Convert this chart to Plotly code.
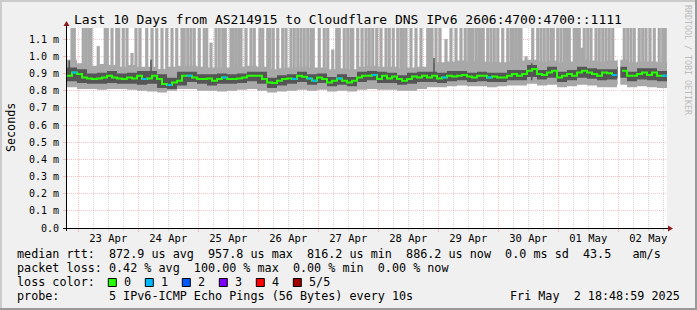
import plotly.graph_objects as go
import pandas as pd

# ---------------- data ----------------
START = pd.Timestamp("2025-04-22 19:30:00")
END = pd.Timestamp("2025-05-02 19:30:00")
MEDIAN_BIN_H = 2      # hours per median sample
BAND_BIN_H = 4        # hours per smoke-band sample

# median rtt, ms (2 h steps)
median_ms = [
    0.887, 0.906, 0.897, 0.877, 0.871, 0.868, 0.871, 0.877, 0.887, 0.877, 0.871, 0.868,
    0.877, 0.871, 0.887, 0.868, 0.871, 0.887, 0.868, 0.839, 0.833, 0.848, 0.858, 0.887,
    0.887, 0.877, 0.868, 0.868, 0.871, 0.858, 0.868, 0.877, 0.868, 0.868, 0.871, 0.877,
    0.887, 0.887, 0.887, 0.868, 0.848, 0.844, 0.858, 0.868, 0.871, 0.868, 0.887, 0.881,
    0.871, 0.858, 0.877, 0.868, 0.848, 0.858, 0.871, 0.858, 0.848, 0.858, 0.877, 0.887,
    0.887, 0.891, 0.868, 0.887, 0.871, 0.883, 0.868, 0.858, 0.868, 0.883, 0.877, 0.887,
    0.877, 0.887, 0.871, 0.877, 0.887, 0.883, 0.887, 0.891, 0.883, 0.877, 0.887, 0.887,
    0.877, 0.883, 0.877, 0.877, 0.887, 0.897, 0.887, 0.897, 0.916, 0.926, 0.897, 0.891,
    0.906, 0.916, 0.877, 0.887, 0.897, 0.887, 0.906, 0.916, 0.906, 0.897, 0.887, 0.906,
    0.902, 0.891, None, 0.916, 0.887, 0.887, 0.897, 0.906, 0.891, 0.906, 0.887, 0.887,
]

# smoke: outer (light) band and inner (dark) band, ms (4 h steps)
light_lo = [
    0.82, 0.81, 0.81, 0.805, 0.81, 0.81, 0.805, 0.80, 0.795, 0.79, 0.80, 0.81,
    0.81, 0.80, 0.80, 0.795, 0.80, 0.805, 0.81, 0.80, 0.79, 0.795, 0.80, 0.805,
    0.80, 0.805, 0.795, 0.80, 0.795, 0.805, 0.81, 0.805, 0.805, 0.80, 0.80, 0.81,
    0.82, 0.82, 0.825, 0.83, 0.825, 0.825, 0.82, 0.825, 0.83, 0.83, 0.84, 0.83,
    0.835, 0.82, 0.825, 0.835, 0.83, 0.82, 0.82, 0.835, 0.82, 0.825, 0.82, 0.815,
]
light_hi = [
    0.98, 0.96, 0.945, 0.955, 0.95, 0.94, 0.95, 0.94, 0.94, 0.926, 0.94, 0.945,
    0.945, 0.94, 0.935, 0.935, 0.935, 0.94, 0.945, 0.94, 0.925, 0.93, 0.935, 0.94,
    0.935, 0.935, 0.925, 0.93, 0.925, 0.94, 0.945, 0.94, 0.94, 0.93, 0.935, 0.94,
    0.96, 0.965, 0.97, 0.975, 0.97, 0.97, 0.965, 0.965, 0.97, 0.975, 0.98, 0.97,
    0.975, 0.965, 0.97, 0.98, 0.975, 0.97, 0.975, 0.98, 0.965, 0.97, 0.97, 0.965,
]
dark_lo = [
    0.855, 0.845, 0.84, 0.84, 0.845, 0.84, 0.84, 0.835, 0.84, 0.815, 0.81, 0.83,
    0.85, 0.84, 0.83, 0.84, 0.84, 0.845, 0.855, 0.84, 0.815, 0.83, 0.84, 0.85,
    0.835, 0.845, 0.825, 0.835, 0.825, 0.85, 0.86, 0.845, 0.845, 0.835, 0.84, 0.85,
    0.85, 0.845, 0.855, 0.86, 0.85, 0.855, 0.85, 0.85, 0.86, 0.86, 0.88, 0.865,
    0.875, 0.85, 0.86, 0.875, 0.87, 0.86, 0.865, 0.875, 0.855, 0.865, 0.86, 0.855,
]
dark_hi = [
    0.935, 0.925, 0.90, 0.905, 0.915, 0.90, 0.905, 0.915, 0.915, 0.895, 0.875, 0.91,
    0.91, 0.895, 0.895, 0.90, 0.895, 0.90, 0.91, 0.91, 0.875, 0.89, 0.895, 0.91,
    0.895, 0.90, 0.88, 0.895, 0.88, 0.91, 0.915, 0.91, 0.905, 0.89, 0.905, 0.91,
    0.91, 0.905, 0.915, 0.915, 0.905, 0.91, 0.905, 0.905, 0.92, 0.92, 0.95, 0.92,
    0.94, 0.91, 0.92, 0.94, 0.93, 0.925, 0.925, 0.94, 0.91, 0.93, 0.93, 0.915,
]

# median samples that lost 1 of 5 pings (index into median_ms)
loss1_bins = [1, 15, 20, 24, 31, 45, 48, 49, 54, 61, 75, 84, 109, 119]

# outlier spikes of the slowest ping (hours after START) that run off the top
spike_hours = [
    2.0, 2.9, 6.5, 7.6, 8.7, 9.6, 15.3, 16.1, 18.0, 19.9, 20.7, 22.5, 24.0, 27.6,
    29.2, 31.9, 34.0, 35.9, 38.0, 39.9, 42.0, 43.9, 46.0, 46.9,
    48.3, 49.6, 50.9, 52.9, 54.9, 55.9, 59.6, 60.9, 62.3, 63.3, 65.6, 66.5, 67.6,
    68.7, 69.6, 71.6, 73.6, 74.9, 77.2, 78.3, 80.3, 81.2, 82.5, 84.3, 86.3, 87.6,
    89.6, 90.9, 92.3, 93.6, 94.9,
    96.3, 97.6, 98.5, 100.9, 102.9, 104.3, 107.9, 108.9, 110.9, 112.3, 113.6,
    114.3, 116.3, 118.0, 119.6, 120.9, 122.3, 123.9, 125.6, 127.6, 128.9, 130.5,
    132.3, 133.6, 134.5, 135.6, 137.6, 139.6, 141.6,
    144.3, 145.2, 146.0, 147.6, 149.2, 153.6, 155.6, 157.6, 159.3, 160.7, 161.6,
    162.3, 163.6, 164.7, 165.6, 166.5, 168.3, 169.6, 170.9, 172.3, 174.3, 176.3,
    177.6, 178.5, 179.6, 180.7, 181.6, 186.3, 188.3, 189.6, 190.9,
    192.3, 193.6, 194.5, 196.3, 197.6, 198.9, 199.9, 200.9, 202.9, 203.9, 204.9,
    206.9, 208.3, 209.6, 211.6, 212.9, 214.3, 215.6, 216.9, 218.3, 222.9, 224.3,
    225.6, 226.9, 228.9, 230.3, 231.6, 233.2, 234.9, 236.9, 238.3, 239.3,
]
# spikes that stop inside the chart: hour, top (ms)
short_spike_hours = [12.5, 26.0, 57.6, 106.3, 151.6, 183.6, 206.0]
short_spike_top = [1.06, 1.02, 1.08, 1.04, 1.10, 1.00, 1.05]
# dark (inner-ping) spikes
dark_spike_hours = [0.9, 33.6, 146.8, 185.9]
dark_spike_top = [0.975, 0.98, 0.99, 0.96]
# missing data
gap_hours = [220.3, 221.3]

y_tick_vals = [0.0, 0.1, 0.2, 0.3, 0.4, 0.5, 0.6, 0.7, 0.8, 0.9, 1.0, 1.1]
y_tick_text = ["0.0", "0.1 m", "0.2 m", "0.3 m", "0.4 m", "0.5 m", "0.6 m",
               "0.7 m", "0.8 m", "0.9 m", "1.0 m", "1.1 m"]
Y_TOP = 1.165

loss_labels = ["0", "1", "2", "3", "4", "5/5"]
loss_colors = ["#26ff00", "#00b8ff", "#0059ff", "#7e00ff", "#ff0000", "#a00000"]

title_text = "Last 10 Days from AS214915 to Cloudflare DNS IPv6 2606:4700:4700::1111"
legend_line1 = "median rtt:  872.9 us avg  957.8 us max  816.2 us min  886.2 us now  0.0 ms sd  43.5   am/s"
legend_line2 = "packet loss: 0.42 % avg  100.00 % max  0.00 % min  0.00 % now"
legend_line3 = "loss color:"
legend_line4 = "probe:       5 IPv6-ICMP Echo Pings (56 Bytes) every 10s"
stamp_text = "Fri May  2 18:48:59 2025"
watermark = "RRDTOOL / TOBI OETIKER"

# ---------------- styles ----------------
FONT = "DejaVu Sans Mono"
LIGHT = "#A8A8A8"
DARK = "#555555"
MGRID = "rgba(240,110,110,0.42)"
GRID = "#D6D6D6"
ARROW = "#8B1A1A"


def t_at(h):
    return START + pd.Timedelta(hours=h)


def steps(values, bin_h):
    xs = [t_at(bin_h * i) for i in range(len(values) + 1)]
    ys = list(values) + [values[-1]]
    return xs, ys


fig = go.Figure()

# light (outer) smoke band
x, y = steps(light_lo, BAND_BIN_H)
fig.add_trace(go.Scatter(x=x, y=y, mode="lines", line=dict(width=0, shape="hv"),
                         hoverinfo="skip"))
x, y = steps(light_hi, BAND_BIN_H)
fig.add_trace(go.Scatter(x=x, y=y, mode="lines", line=dict(width=0, shape="hv"),
                         fill="tonexty", fillcolor=LIGHT, hoverinfo="skip"))

# outlier spikes
sx, sy = [], []
for h in spike_hours:
    sx += [t_at(h), t_at(h), None]
    sy += [0.9, 1.4, None]
for h, top in zip(short_spike_hours, short_spike_top):
    sx += [t_at(h), t_at(h), None]
    sy += [0.9, top, None]
fig.add_trace(go.Scatter(x=sx, y=sy, mode="lines", line=dict(width=3.2, color=LIGHT),
                         hoverinfo="skip"))

# dark (inner) smoke band
x, y = steps(dark_lo, BAND_BIN_H)
fig.add_trace(go.Scatter(x=x, y=y, mode="lines", line=dict(width=0, shape="hv"),
                         hoverinfo="skip"))
x, y = steps(dark_hi, BAND_BIN_H)
fig.add_trace(go.Scatter(x=x, y=y, mode="lines", line=dict(width=0, shape="hv"),
                         fill="tonexty", fillcolor=DARK, hoverinfo="skip"))

dx, dy = [], []
for h, top in zip(dark_spike_hours, dark_spike_top):
    dx += [t_at(h), t_at(h), None]
    dy += [0.86, top, None]
fig.add_trace(go.Scatter(x=dx, y=dy, mode="lines", line=dict(width=1.5, color=DARK),
                         hoverinfo="skip"))

# median line, loss-coloured
x, y = steps(median_ms, MEDIAN_BIN_H)
fig.add_trace(go.Scatter(x=x, y=y, mode="lines",
                         line=dict(width=2, color=loss_colors[0], shape="hv"),
                         connectgaps=False, hoverinfo="skip"))
lx, ly = [], []
for i in loss1_bins:
    lx += [t_at(MEDIAN_BIN_H * i), t_at(MEDIAN_BIN_H * (i + 1)), None]
    ly += [median_ms[i], median_ms[i], None]
fig.add_trace(go.Scatter(x=lx, y=ly, mode="lines", line=dict(width=2, color=loss_colors[1]),
                         hoverinfo="skip"))

# ---------------- layout ----------------
L, R, T, B = 67, 30, 28, 82
W, H = 697, 310
PW, PH = W - L - R, H - T - B


def px(xp):
    return (xp - L) / PW


def py(yp):
    return (H - B - yp) / PH


fig.update_layout(
    template="none",
    width=W, height=H,
    margin=dict(l=L, r=R, t=T, b=B, pad=0),
    paper_bgcolor="#F0F0F0", plot_bgcolor="#FFFFFF",
    showlegend=False,
    font=dict(family=FONT, size=10, color="#000000"),
)
fig.update_xaxes(
    type="date", range=[START, END], automargin=False, fixedrange=True,
    showgrid=True, gridcolor=MGRID, griddash="1px,1px", gridwidth=1,
    dtick=86400000, tick0="2025-04-23 00:00:00",
    ticklabelmode="period", tickformat="%d %b",
    ticks="outside", ticklen=3, tickcolor=MGRID, tickwidth=1,
    tickfont=dict(family=FONT, size=10.5, color="#000000"),
    ticklabelstandoff=-3,
    showline=False, zeroline=False,
    minor=dict(dtick=21600000, tick0="2025-04-23 00:00:00", showgrid=True,
               gridcolor=GRID, griddash="1px,1px", gridwidth=1,
               ticks="outside", ticklen=2, tickcolor=GRID),
)
fig.update_yaxes(
    range=[0, Y_TOP], automargin=False, fixedrange=True,
    tickmode="array", tickvals=y_tick_vals, ticktext=y_tick_text,
    showgrid=True, gridcolor=MGRID, griddash="1px,1px", gridwidth=1,
    ticks="outside", ticklen=3, tickcolor=MGRID,
    tickfont=dict(family=FONT, size=10, color="#000000"),
    ticklabelstandoff=2,
    showline=False, zeroline=False,
)

shapes = []
# gap (no data)
shapes.append(dict(type="rect", xref="x", yref="y", x0=t_at(gap_hours[0]), x1=t_at(gap_hours[1]),
                   y0=0.7, y1=Y_TOP, fillcolor="#FFFFFF", line=dict(width=0), layer="above"))
# frame shading
shapes += [
    dict(type="rect", xref="paper", yref="paper", x0=px(0), x1=px(W), y0=py(2), y1=py(0),
         fillcolor="#CBCBCB", line=dict(width=0)),
    dict(type="rect", xref="paper", yref="paper", x0=px(0), x1=px(2), y0=py(H), y1=py(0),
         fillcolor="#CBCBCB", line=dict(width=0)),
    dict(type="rect", xref="paper", yref="paper", x0=px(0), x1=px(W), y0=py(H), y1=py(H - 2),
         fillcolor="#999999", line=dict(width=0)),
    dict(type="rect", xref="paper", yref="paper", x0=px(W - 2), x1=px(W), y0=py(H), y1=py(0),
         fillcolor="#999999", line=dict(width=0)),
]
# axes with arrows
shapes += [
    dict(type="line", xref="paper", yref="paper", x0=px(63), x1=px(670), y0=py(228.5), y1=py(228.5),
         line=dict(color="#000000", width=1), layer="above"),
    dict(type="line", xref="paper", yref="paper", x0=px(66.5), x1=px(66.5), y0=py(231), y1=py(24),
         line=dict(color="#000000", width=1), layer="above"),
    dict(type="path", xref="paper", yref="paper",
         path=f"M {px(668)},{py(225.5)} L {px(673)},{py(228.5)} L {px(668)},{py(231.5)} Z",
         fillcolor=ARROW, line=dict(width=0), layer="above"),
    dict(type="path", xref="paper", yref="paper",
         path=f"M {px(63.5)},{py(26)} L {px(66.5)},{py(21)} L {px(69.5)},{py(26)} Z",
         fillcolor=ARROW, line=dict(width=0), layer="above"),
]
# loss colour boxes
for k, c in enumerate(loss_colors):
    bx = 108.3 + 37.0 * k
    shapes.append(dict(type="rect", xref="paper", yref="paper", x0=px(bx), x1=px(bx + 8),
                       y0=py(286.5), y1=py(278.5), fillcolor=c,
                       line=dict(color="#000000", width=1)))
fig.update_layout(shapes=shapes)


def nb(s):
    return s.replace(" ", "\u00a0")


ann = []


def add_text(text, xp, yp, size, xanchor="left", color="#000000", angle=0):
    ann.append(dict(text=nb(text), x=px(xp), y=py(yp), xref="paper", yref="paper",
                    showarrow=False, xanchor=xanchor, yanchor="middle", textangle=angle,
                    font=dict(family=FONT, size=size, color=color), borderpad=0))


add_text(title_text, 347.5, 19, 13, xanchor="center")
add_text("Seconds", 11, 128, 11.7, xanchor="center", angle=-90)
add_text(legend_line1, 16, 254.3, 11.75)
add_text(legend_line2, 16, 268.3, 11.75)
add_text(legend_line3, 16, 282.3, 11.75)
add_text(legend_line4, 16, 296.2, 11.75)
add_text(stamp_text, 680.5, 296.2, 11.75, xanchor="right")
for k, lab in enumerate(loss_labels):
    add_text(lab, 122.6 + 37.0 * k, 282.3, 11.75)
add_text(watermark, 688, 60, 8.3, xanchor="center", color="#BBBBBB", angle=90)
fig.update_layout(annotations=ann)

fig.write_html("out.html")
